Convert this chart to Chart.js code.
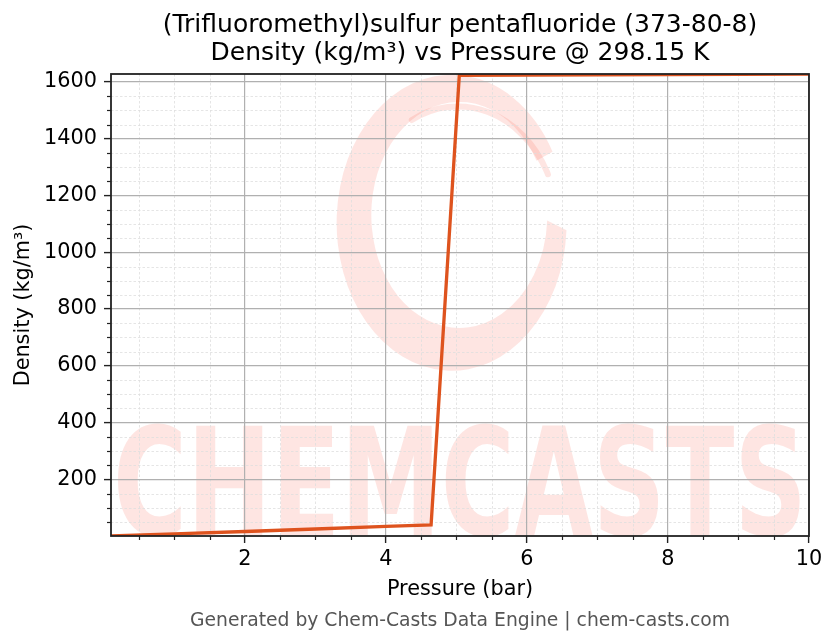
<!DOCTYPE html>
<html><head><meta charset="utf-8">
<script src="https://cdn.jsdelivr.net/npm/chart.js@4.4.0/dist/chart.umd.min.js"></script>
<style>html,body{margin:0;padding:0;background:#fff;}</style>
</head><body>
<canvas id="c" width="836" height="644" style="width:836px;height:644px;display:block"></canvas>
<script>
// ---- data ----
const pressureBar = [0.1, 1, 2, 3, 4, 4.64, 5.04, 6, 7, 8, 9, 10];
const densityKgM3 = [0.8, 8.1, 16.6, 25.5, 34.8, 40, 1623.5, 1624.4, 1625.3, 1626.2, 1627.1, 1628];
const xMajorTicks = [2, 4, 6, 8, 10];
const yMajorTicks = [200, 400, 600, 800, 1000, 1200, 1400, 1600];
const xMinorStep = 0.5;
const yMinorStep = 50;
const titleLines = ['(Trifluoromethyl)sulfur pentafluoride (373-80-8)', 'Density (kg/m³) vs Pressure @ 298.15 K'];
const xTitle = 'Pressure (bar)';
const yTitle = 'Density (kg/m³)';
const footerText = 'Generated by Chem-Casts Data Engine | chem-casts.com';
const watermarkText = 'CHEMCASTS';

const FONT = "'DejaVu Sans', sans-serif";
const xMin = Math.min(...pressureBar), xMax = Math.max(...pressureBar);
const yMin = Math.min(...densityKgM3), yMax = Math.max(...densityKgM3);

function minorValues(min, max, step, majors) {
  const out = [];
  for (let v = Math.ceil(min / step) * step; v <= max + 1e-9; v += step) {
    const r = Math.round(v * 1000) / 1000;
    if (!majors.includes(r)) out.push(r);
  }
  return out;
}

const decor = {
  id: 'decor',
  beforeDraw(chart) {
    const { ctx, chartArea: a } = chart;
    const xs = chart.scales.x, ys = chart.scales.y;
    ctx.save();
    ctx.fillStyle = '#fff';
    ctx.fillRect(0, 0, chart.width, chart.height);
    // watermark
    ctx.save();
    ctx.beginPath(); ctx.rect(a.left, a.top, a.right - a.left, a.bottom - a.top); ctx.clip();
    const wm = 'rgba(245,80,60,0.15)';
    const fx = f => a.left + f * (a.right - a.left);
    const fy = f => a.top + f * (a.bottom - a.top);
    // swirl ring
    const ocx = fx(0.488), ocy = fy(0.322), orx = 115, ory = 148;
    const icx = fx(0.499), icy = fy(0.305), irx = 88, iry = 113;
    const s = 0.05, e = Math.PI * 2 - 0.5;
    ctx.fillStyle = wm;
    ctx.beginPath();
    ctx.ellipse(ocx, ocy, orx, ory, 0, s, e, false);
    ctx.ellipse(icx, icy, irx, iry, 0, e, s, true);
    ctx.closePath();
    ctx.fill();
    ctx.strokeStyle = wm; ctx.lineWidth = 6; ctx.lineCap = 'round';
    ctx.beginPath();
    ctx.ellipse(fx(0.497), fy(0.33), 100, 120, 0, -2.05, -0.45, false);
    ctx.stroke();
    // text
    ctx.font = 'bold 150px ' + FONT;
    ctx.textAlign = 'center'; ctx.textBaseline = 'alphabetic';
    ctx.fillText(watermarkText, (a.left + a.right) / 2, a.bottom - 1, a.right - a.left - 4);
    ctx.restore();
    // minor grid
    ctx.strokeStyle = '#dedede'; ctx.lineWidth = 0.8; ctx.setLineDash([2.5, 2]);
    for (const v of minorValues(xMin, xMax, xMinorStep, xMajorTicks)) {
      const p = Math.round(xs.getPixelForValue(v)) + 0.5;
      ctx.beginPath(); ctx.moveTo(p, a.top); ctx.lineTo(p, a.bottom); ctx.stroke();
    }
    for (const v of minorValues(yMin, yMax, yMinorStep, yMajorTicks)) {
      const p = Math.round(ys.getPixelForValue(v)) + 0.5;
      ctx.beginPath(); ctx.moveTo(a.left, p); ctx.lineTo(a.right, p); ctx.stroke();
    }
    ctx.restore();
  },
  afterDraw(chart) {
    const { ctx, chartArea: a } = chart;
    const xs = chart.scales.x, ys = chart.scales.y;
    ctx.save();
    ctx.strokeStyle = '#222'; ctx.lineWidth = 1.2;
    for (const v of minorValues(xMin, xMax, xMinorStep, xMajorTicks)) {
      const p = Math.round(xs.getPixelForValue(v)) + 0.5;
      ctx.beginPath(); ctx.moveTo(p, a.bottom); ctx.lineTo(p, a.bottom + 4); ctx.stroke();
    }
    for (const v of minorValues(yMin, yMax, yMinorStep, yMajorTicks)) {
      const p = Math.round(ys.getPixelForValue(v)) + 0.5;
      ctx.beginPath(); ctx.moveTo(a.left, p); ctx.lineTo(a.left - 4, p); ctx.stroke();
    }
    ctx.lineWidth = 1.8;
    ctx.strokeRect(a.left, a.top, a.right - a.left, a.bottom - a.top);
    ctx.restore();
  }
};

Chart.defaults.font.family = FONT;
Chart.defaults.color = '#000';

new Chart(document.getElementById('c'), {
  type: 'scatter',
  data: {
    datasets: [{
      data: pressureBar.map((p, i) => ({ x: p, y: densityKgM3[i] })),
      showLine: true,
      borderColor: 'rgb(222,83,30)',
      backgroundColor: 'rgb(222,83,30)',
      borderWidth: 3.3,
      pointRadius: 0,
      tension: 0
    }]
  },
  options: {
    responsive: false,
    animation: false,
    devicePixelRatio: 1,
    layout: { padding: { left: 4, right: 27, top: 0, bottom: 4 } },
    plugins: {
      legend: { display: false },
      tooltip: { enabled: false },
      title: {
        display: true, text: titleLines, fullSize: false,
        font: { size: 25, weight: 'normal', family: FONT, lineHeight: 1.1 },
        color: '#000', padding: { top: 12, bottom: 7 }
      },
      subtitle: {
        display: true, text: footerText, position: 'bottom', fullSize: false,
        font: { size: 18.75, weight: 'normal', family: FONT, lineHeight: 1.2 },
        color: '#555', padding: { top: 8, bottom: 7.5 }
      }
    },
    scales: {
      x: {
        type: 'linear', min: xMin, max: xMax,
        afterBuildTicks: s => { s.ticks = xMajorTicks.map(v => ({ value: v })); },
        afterFit: s => { s.height = 66; },
        grid: { color: '#b0b0b0', lineWidth: 1.2, tickLength: 7, tickColor: '#222', tickWidth: 1.4 },
        border: { display: false },
        ticks: { font: { size: 20.8 }, color: '#000', padding: 4, maxRotation: 0, callback: v => String(v) },
        title: { display: true, text: xTitle, font: { size: 20.8 }, color: '#000', padding: { top: 7, bottom: 0 } }
      },
      y: {
        type: 'linear', min: yMin, max: yMax,
        afterBuildTicks: s => { s.ticks = yMajorTicks.map(v => ({ value: v })); },
        afterFit: s => { s.width = 107; },
        grid: { color: '#b0b0b0', lineWidth: 1.2, tickLength: 7, tickColor: '#222', tickWidth: 1.4 },
        border: { display: false },
        ticks: { font: { size: 20.8 }, color: '#000', padding: 7, callback: v => String(v) },
        title: { display: true, text: yTitle, font: { size: 20.8 }, color: '#000', padding: { top: 7.5, bottom: 0 } }
      }
    }
  },
  plugins: [decor]
});
</script>
</body></html>
